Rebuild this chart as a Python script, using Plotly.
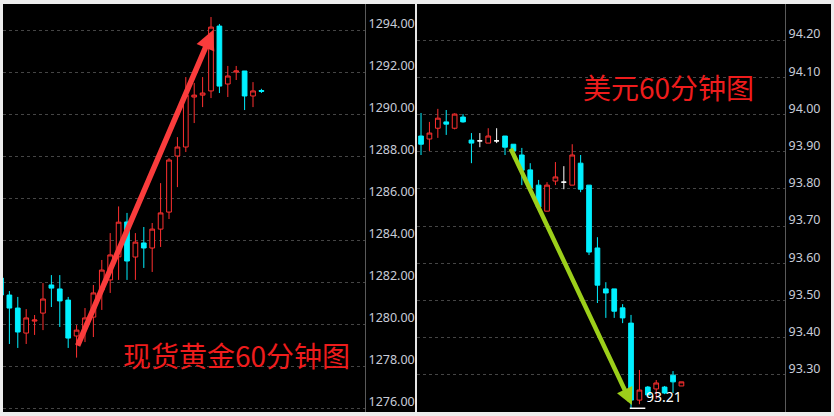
import plotly.graph_objects as go

W, H = 834, 416

# ---------------- data: spot gold, 60-minute candles ----------------
gold_open = [1282.19, 1281.38, 1280.76, 1279.57, 1280.14, 1280.52, 1281.86, 1281.67,
             1281.14, 1279.43, 1279.81, 1280.33, 1281.62, 1282.10, 1283.20, 1284.86,
             1283.19, 1283.86, 1283.62, 1284.52, 1285.33, 1288.00, 1288.43, 1290.81,
             1290.90, 1291.10, 1294.19, 1291.43, 1292.00, 1292.05, 1290.86, 1291.12]
gold_high = [1282.40, 1281.57, 1281.29, 1280.71, 1280.43, 1281.95, 1282.33, 1282.33,
             1281.29, 1279.95, 1280.76, 1281.86, 1283.05, 1284.33, 1285.60, 1285.29,
             1284.33, 1284.62, 1284.81, 1286.71, 1287.90, 1288.90, 1291.76, 1291.48,
             1291.76, 1294.62, 1294.29, 1292.29, 1292.29, 1292.05, 1291.52, 1291.20]
gold_low = [1281.00, 1279.05, 1278.86, 1279.05, 1279.48, 1279.71, 1280.81, 1279.86,
            1278.86, 1278.40, 1279.14, 1279.38, 1280.67, 1281.48, 1282.10, 1282.10,
            1282.10, 1282.67, 1282.48, 1283.67, 1285.00, 1286.52, 1288.19, 1289.57,
            1290.33, 1290.76, 1291.00, 1290.81, 1291.62, 1290.19, 1290.33, 1291.00]
gold_close = [1281.38, 1280.76, 1279.62, 1280.29, 1280.19, 1281.19, 1281.71, 1281.10,
              1279.33, 1279.71, 1280.29, 1281.48, 1282.57, 1283.29, 1284.85, 1283.00,
              1283.90, 1283.62, 1284.52, 1285.29, 1287.81, 1288.43, 1290.90, 1290.90,
              1291.00, 1294.14, 1291.33, 1291.81, 1292.05, 1290.86, 1291.10, 1291.08]
gold_ticks = [1276, 1278, 1280, 1282, 1284, 1286, 1288, 1290, 1292, 1294]

# ---------------- data: US dollar index, 60-minute candles ----------------
usd_open = [93.942, 93.934, 93.963, 93.980, 93.963, 93.993, 93.931, 93.929,
            93.923, 93.929, 93.942, 93.920, 93.891, 93.851, 93.810, 93.740,
            93.821, 93.818, 93.810, 93.869, 93.810, 93.641, 93.531, 93.531,
            93.480, 93.439, 93.232, 93.267, 93.262, 93.267, 93.299, 93.270]
usd_high = [94.004, 93.980, 94.015, 94.012, 94.003, 94.001, 93.950, 93.950,
            93.963, 93.963, 93.942, 93.920, 93.910, 93.869, 93.824, 93.818,
            93.872, 93.861, 93.920, 93.891, 93.810, 93.670, 93.549, 93.531,
            93.490, 93.461, 93.313, 93.270, 93.286, 93.270, 93.310, 93.281]
usd_low = [93.891, 93.902, 93.937, 93.945, 93.960, 93.978, 93.869, 93.912,
           93.923, 93.923, 93.891, 93.880, 93.810, 93.789, 93.745, 93.740,
           93.810, 93.799, 93.810, 93.791, 93.622, 93.493, 93.453, 93.453,
           93.439, 93.210, 93.221, 93.246, 93.235, 93.248, 93.251, 93.270]
usd_close = [93.920, 93.950, 93.990, 93.974, 94.001, 93.980, 93.923, 93.929,
             93.942, 93.929, 93.912, 93.902, 93.850, 93.802, 93.751, 93.810,
             93.832, 93.818, 93.891, 93.799, 93.630, 93.541, 93.520, 93.471,
             93.453, 93.232, 93.259, 93.246, 93.278, 93.251, 93.281, 93.281]
usd_ticks = [93.30, 93.40, 93.50, 93.60, 93.70, 93.80, 93.90, 94.00, 94.10, 94.20]

gold_title = "现货黄金60分钟图"
usd_title = "美元60分钟图"

RED = "#ff3030"
CYAN = "#00f0ff"
BLACK = "#000000"


def candle_traces(o, h, l, c, xa, ya):
    idx = list(range(len(o)))
    main = [i for i in idx if o[i] != c[i]]
    flat = [i for i in idx if o[i] == c[i]]
    out = [go.Candlestick(
        x=main, open=[o[i] for i in main], high=[h[i] for i in main],
        low=[l[i] for i in main], close=[c[i] for i in main],
        increasing=dict(line=dict(color=RED, width=1), fillcolor=BLACK),
        decreasing=dict(line=dict(color=CYAN, width=1), fillcolor=CYAN),
        whiskerwidth=0, xaxis=xa, yaxis=ya, hoverinfo="skip", showlegend=False)]
    if flat:
        out.append(go.Candlestick(
            x=flat, open=[o[i] for i in flat], high=[h[i] for i in flat],
            low=[l[i] for i in flat], close=[c[i] for i in flat],
            increasing=dict(line=dict(color="white", width=1), fillcolor="white"),
            decreasing=dict(line=dict(color="white", width=1), fillcolor="white"),
            whiskerwidth=0, xaxis=xa, yaxis=ya, hoverinfo="skip", showlegend=False))
    return out


fig = go.Figure()
for t in candle_traces(gold_open, gold_high, gold_low, gold_close, "x", "y"):
    fig.add_trace(t)
for t in candle_traces(usd_open, usd_high, usd_low, usd_close, "x2", "y2"):
    fig.add_trace(t)

ydom = [1 - 412 / H, 1 - 4 / H]
tickfont = dict(family="Noto Sans", size=12.5, color="#c8ccd8")
common_y = dict(domain=ydom, side="right", showgrid=True, gridcolor="#454545",
                griddash="dot", gridwidth=1, showline=True, linecolor="#5a5a5a",
                linewidth=1, ticks="", tickfont=tickfont, zeroline=False,
                ticklabelshift=-6, ticklabelstandoff=0, fixedrange=True)
common_x = dict(showticklabels=False, showgrid=False, zeroline=False, showline=False,
                ticks="", rangeslider=dict(visible=False), fixedrange=True)

low_idx = usd_low.index(min(usd_low))

fig.update_layout(
    width=W, height=H, margin=dict(l=0, r=0, t=0, b=0),
    paper_bgcolor="#ededed", plot_bgcolor=BLACK, showlegend=False, boxgap=0.2,
    xaxis=dict(domain=[3 / W, 365 / W], range=[0.24, 43.33], anchor="y", **common_x),
    yaxis=dict(range=[1275.81, 1295.24], anchor="x", tickvals=gold_ticks,
               tickformat=".2f", **common_y),
    xaxis2=dict(domain=[417 / W, 785 / W], range=[-0.48, 43.33], anchor="y2", **common_x),
    yaxis2=dict(range=[93.20, 94.297], anchor="x2", tickvals=usd_ticks,
                tickformat=".2f", **common_y),
    shapes=[
        dict(type="rect", xref="paper", yref="paper", x0=3 / W, x1=831 / W,
             y0=1 - 412 / H, y1=1 - 4 / H, fillcolor=BLACK, line=dict(width=0),
             layer="below"),
        dict(type="line", xref="paper", yref="paper", x0=416 / W, x1=416 / W,
             y0=1 - 412 / H, y1=1 - 4 / H, line=dict(color="#e6e6e6", width=2)),
        dict(type="line", xref="x2", yref="y2", x0=low_idx - 0.15, x1=low_idx + 1.7,
             y0=usd_low[low_idx], y1=usd_low[low_idx],
             line=dict(color="white", width=1.5)),
    ],
    annotations=[
        dict(xref="x", yref="y", axref="x", ayref="y", x=25.24, y=1294.0,
             ax=9.05, ay=1278.9, text="", showarrow=True, arrowhead=2,
             arrowsize=0.7, arrowwidth=5.5, arrowcolor="#fa3c3c", standoff=0),
        dict(xref="x2", yref="y2", axref="x2", ayref="y2", x=25.1, y=93.219,
             ax=10.6, ay=93.912, text="", showarrow=True, arrowhead=2,
             arrowsize=0.75, arrowwidth=4.5, arrowcolor="#9ccf1a", standoff=0),
        dict(xref="paper", yref="paper", x=121 / W, y=1 - 355 / H, xanchor="left",
             yanchor="middle", text=gold_title, showarrow=False,
             font=dict(family="Noto Sans CJK SC", size=28, color="#ee1c1c")),
        dict(xref="paper", yref="paper", x=581 / W, y=1 - 87 / H, xanchor="left",
             yanchor="middle", text=usd_title, showarrow=False,
             font=dict(family="Noto Sans CJK SC", size=28, color="#ee1c1c")),
        dict(xref="x2", yref="y2", x=low_idx, y=usd_low[low_idx], xanchor="left",
             yanchor="bottom", xshift=13, text=f"{min(usd_low):.2f}", showarrow=False,
             font=dict(family="Noto Sans", size=14, color="white")),
    ],
)

fig.write_html("out.html", config={"displayModeBar": False},
               post_script="document.body.style.margin='0';document.body.style.overflow='hidden';")
